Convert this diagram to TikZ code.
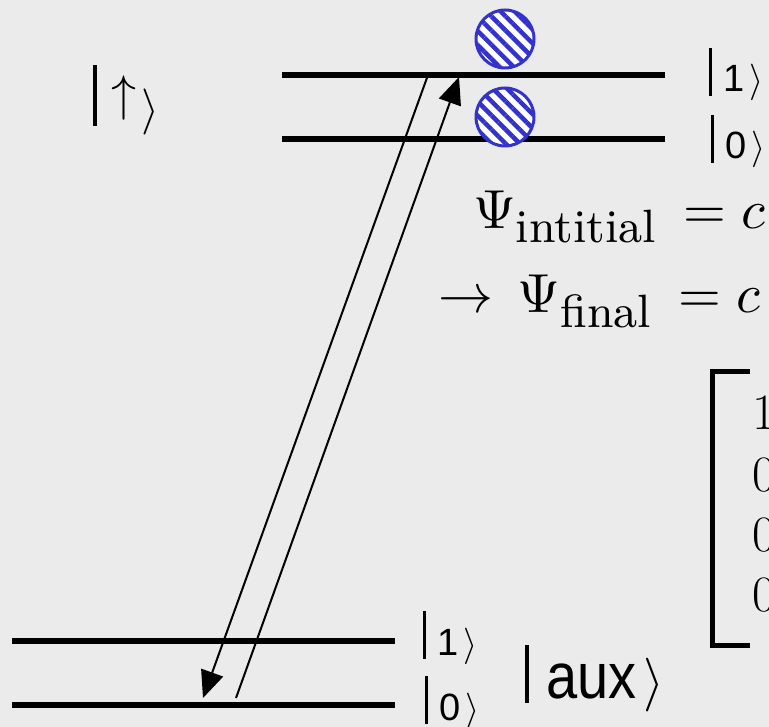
\RequirePackage{fix-cm}
\documentclass[tikz,border=0pt]{standalone}
\usepackage{fontspec}
\setsansfont{Liberation Sans}
\usetikzlibrary{arrows.meta, patterns.meta}

\definecolor{bggray}{RGB}{235,235,235}
\definecolor{atomblue}{RGB}{51,51,204}
\def\ketbarh{1.26em}
\def\ketbard{0.1em}
% bar, content, angle bracket (optional raise of the bracket)
\newcommand{\sfket}[2][0em]{\rule[-\ketbard]{0.075em}{\ketbarh}\hspace{0.3em}#2\hspace{0.12em}\raisebox{#1}{\resizebox{!}{0.72em}{$\rangle$}}}
% subscript a bit larger than scriptstyle
\newcommand{\psisub}[1]{\hbox{\fontsize{8.5}{10}\selectfont #1}}

\begin{document}
\begin{tikzpicture}[
    x=1pt, y=-1pt,
    level/.style={line width=6pt},
    trans/.style={line width=2pt, -{Triangle[length=27pt,width=23pt]}},
    atom/.style={
        circle, draw=atomblue, line width=3pt,
        preaction={fill=white},
        pattern={Lines[angle=-45,distance=10pt,line width=4.5pt]},
        pattern color=atomblue,
        minimum size=58pt, inner sep=0pt
    },
    ketlbl/.style={font=\fontsize{38}{40}\selectfont, anchor=base west, inner sep=0pt},
    biglbl/.style={font=\fontsize{48}{54}\selectfont, anchor=base west, inner sep=0pt},
    auxlbl/.style={font=\fontsize{56}{60}\selectfont\def\ketbarh{1.04em}\def\ketbard{0.09em},
        anchor=base west, inner sep=0pt},
    eqn/.style={anchor=base west, inner sep=0pt},
    entry/.style={font=\fontsize{51}{56}\selectfont, anchor=base west, inner sep=0pt}
]

% ===================== CANVAS =====================
\useasboundingbox (0,0) rectangle (769,727);
\fill[bggray] (0,0) rectangle (769,727);
\clip (0,0) rectangle (769,727);

% ===================== LEVELS =====================
\coordinate (upOneL) at (282,75);
\coordinate (upOneR) at (665,75);
\coordinate (upZeroL) at (282,139);
\coordinate (upZeroR) at (665,139);
\coordinate (auxOneL) at (12,641);
\coordinate (auxOneR) at (395,641);
\coordinate (auxZeroL) at (12,705);
\coordinate (auxZeroR) at (395,705);

\draw[level] (upOneL) -- (upOneR);
\draw[level] (upZeroL) -- (upZeroR);
\draw[level] (auxOneL) -- (auxOneR);
\draw[level] (auxZeroL) -- (auxZeroR);

% atoms sitting on the upper pair
\node[atom] (atomOne) at (505,39) {};
\node[atom] (atomZero) at (505,117) {};

% ===================== LABELS =====================
\node[ketlbl] (ketUpOne) at (709,92) {\sfket{\textsf{1}}};
\node[ketlbl] (ketUpZero) at (711,159) {\sfket{\textsf{0}}};
\node[ketlbl] (ketAuxOne) at (423,655) {\sfket{\textsf{1}}};
\node[ketlbl] (ketAuxZero) at (425,720) {\sfket{\textsf{0}}};
\node[biglbl] (ketUp) at (93,121)
    {\sfket[-0.05em]{\raisebox{0.22em}{\scalebox{5}{\fontsize{10}{12}\selectfont$\uparrow$}}}};
\node[auxlbl] (ketAux) at (525,698) {\sfket{\scalebox{1}[1.15]{\textsf{aux}}}};

% ===================== STATES =====================
\node[eqn] (psiInit) at (473,229)
    {\scalebox{5.5}{$\Psi_{\psisub{intitial}}\,= c$}};
\node[eqn] (psiFinal) at (438,313)
    {\scalebox{5.5}{$\rightarrow\,\Psi_{\psisub{final}}\,= c$}};

% column vector, cut by the frame
\draw[line width=5pt] (750,372) -- (712,372) -- (712,645) -- (750,645);
\node[entry] (vecA) at (752,430) {1};
\node[entry] (vecB) at (752,491) {0};
\node[entry] (vecC) at (752,551) {0};
\node[entry] (vecD) at (752,611) {0};

% ===================== TRANSITIONS =====================
\coordinate (upFoot) at (236,698);
\coordinate (upTip) at (459,77);
\coordinate (downStart) at (428,75);
\coordinate (downTip) at (203,698);

\draw[trans] (upFoot) -- (upTip);
\draw[trans] (downStart) -- (downTip);

\end{tikzpicture}
\end{document}
